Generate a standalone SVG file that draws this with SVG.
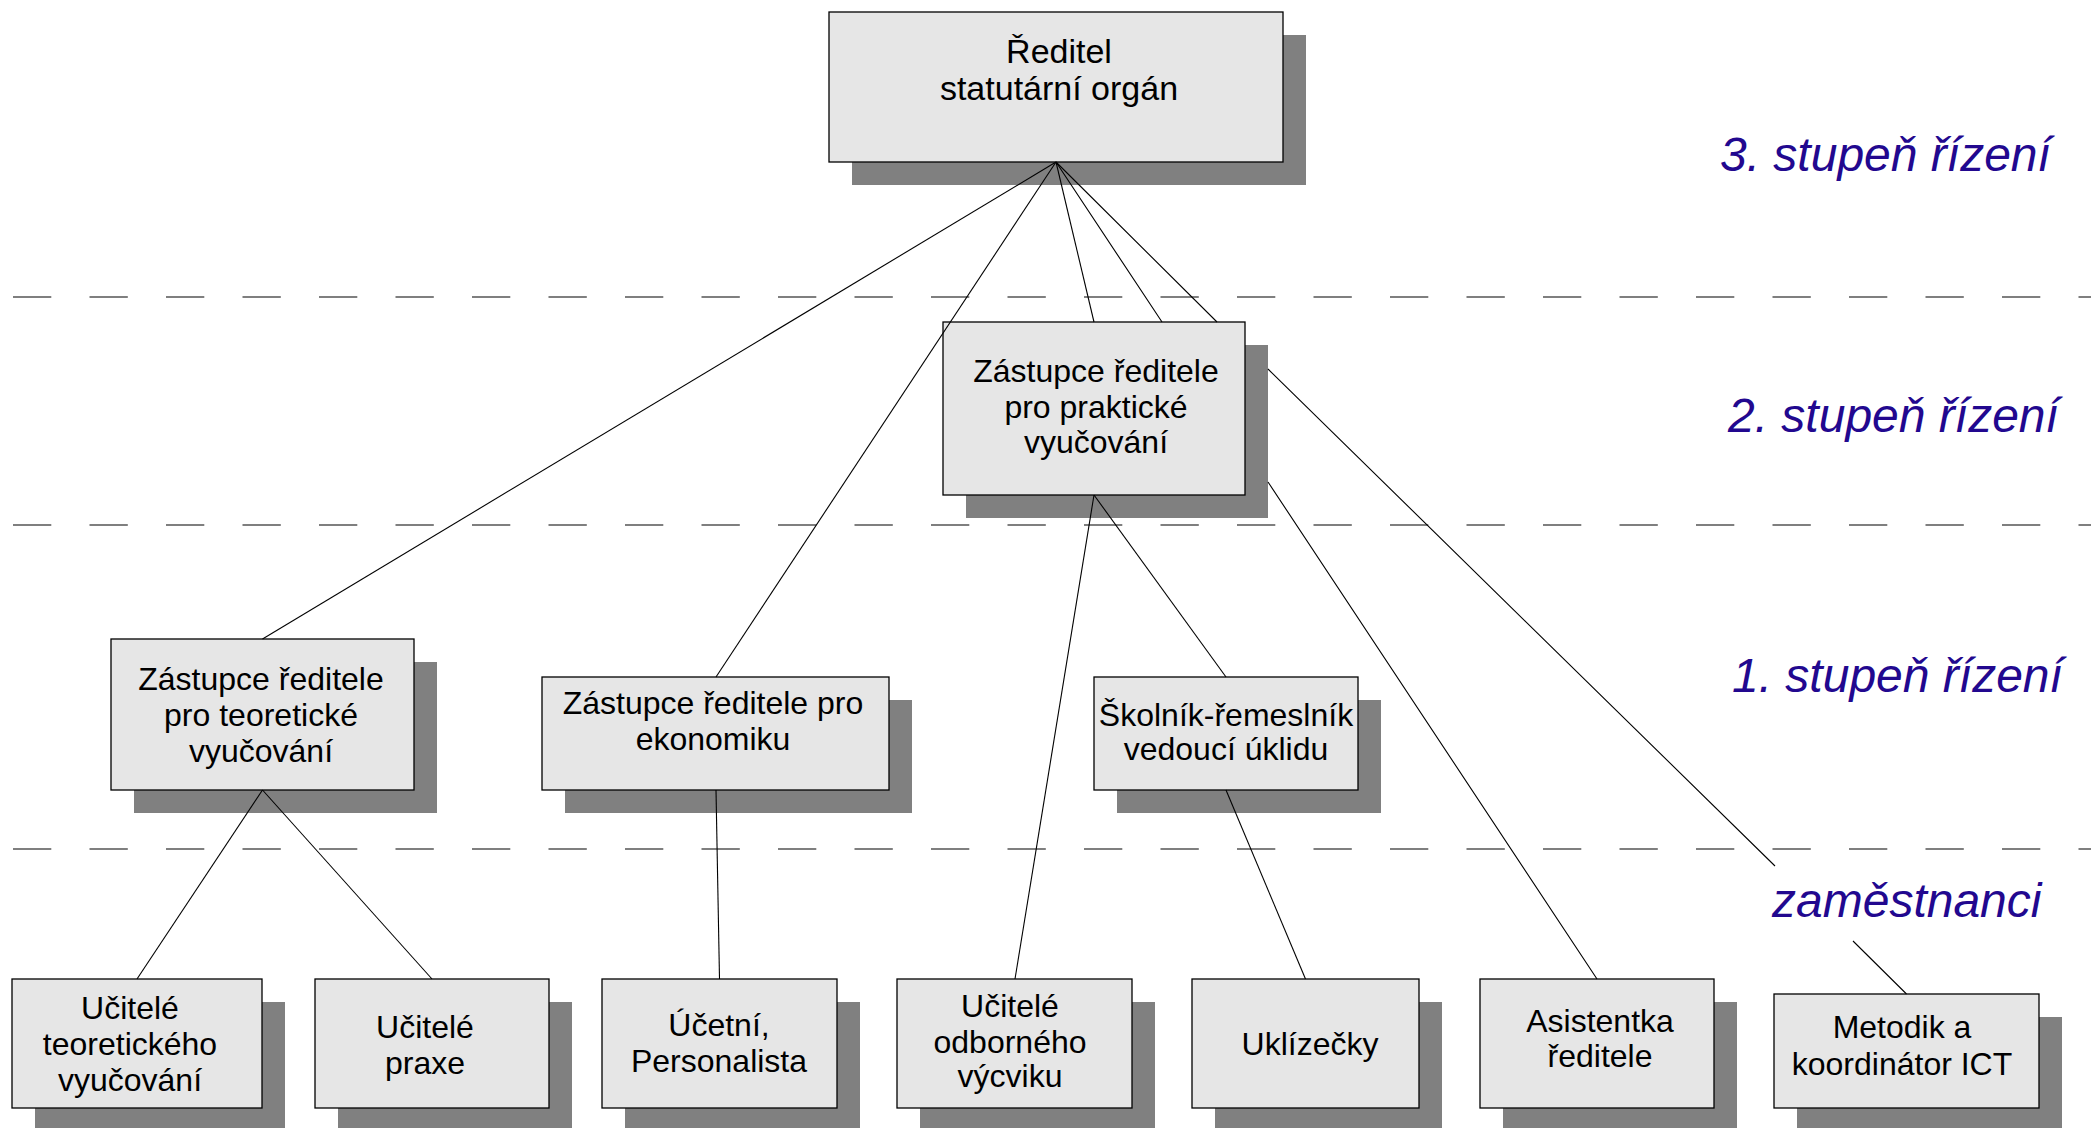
<svg xmlns="http://www.w3.org/2000/svg" width="2091" height="1128" viewBox="0 0 2091 1128">
<style>
.bg{fill:#ffffff}
.dash{stroke:#7f7f7f;stroke-width:2;stroke-dasharray:38.3 38.2;fill:none}
.con{stroke:#000;stroke-width:1.1;fill:none}
.sh{fill:#808080}
.box{fill:#e6e6e6;stroke:#000;stroke-width:1.3}
.t{font-family:"Liberation Sans",Arial,sans-serif;font-size:32px;fill:#000;text-anchor:middle}
.tb{font-size:34px}
.lvl{font-family:"Liberation Sans",Arial,sans-serif;font-size:48px;font-style:italic;fill:#22088f}
</style>
<rect class="bg" x="0" y="0" width="2091" height="1128"/>
<g id="levels">
<line class="dash" x1="13" y1="297" x2="2091" y2="297"/>
<line class="dash" x1="13" y1="525" x2="2091" y2="525"/>
<line class="dash" x1="13" y1="849" x2="2091" y2="849"/>
</g>
<g id="level-labels">
<text class="lvl" x="1720" y="171">3. stupeň řízení</text>
<text class="lvl" x="1728" y="432">2. stupeň řízení</text>
<text class="lvl" x="1732" y="692">1. stupeň řízení</text>
<text class="lvl" x="1772" y="917">zaměstnanci</text>
</g>
<g id="reditel">
<rect class="sh" x="852" y="35" width="454" height="150"/>
<rect class="box" x="829" y="12" width="454" height="150"/>
<text class="t tb" x="1059" y="63">Ředitel</text>
<text class="t tb" x="1059" y="100">statutární orgán</text>
</g>
<g id="zastupce-prakticke">
<rect class="sh" x="966" y="345" width="302" height="173"/>
<rect class="box" x="943" y="322" width="302" height="173"/>
<text class="t" x="1096" y="382">Zástupce ředitele</text>
<text class="t" x="1096" y="418">pro praktické</text>
<text class="t" x="1096" y="453">vyučování</text>
</g>
<g id="zastupce-teoreticke">
<rect class="sh" x="134" y="662" width="303" height="151"/>
<rect class="box" x="111" y="639" width="303" height="151"/>
<text class="t" x="261" y="690">Zástupce ředitele</text>
<text class="t" x="261" y="726">pro teoretické</text>
<text class="t" x="261" y="762">vyučování</text>
</g>
<g id="zastupce-ekonomika">
<rect class="sh" x="565" y="700" width="347" height="113"/>
<rect class="box" x="542" y="677" width="347" height="113"/>
<text class="t" x="713" y="714">Zástupce ředitele pro</text>
<text class="t" x="713" y="750">ekonomiku</text>
</g>
<g id="skolnik">
<rect class="sh" x="1117" y="700" width="264" height="113"/>
<rect class="box" x="1094" y="677" width="264" height="113"/>
<text class="t" x="1226" y="726">Školník-řemeslník</text>
<text class="t" x="1226" y="760">vedoucí úklidu</text>
</g>
<g id="ucitele-teoretickeho">
<rect class="sh" x="35" y="1002" width="250" height="129"/>
<rect class="box" x="12" y="979" width="250" height="129"/>
<text class="t" x="130" y="1019">Učitelé</text>
<text class="t" x="130" y="1055">teoretického</text>
<text class="t" x="130" y="1091">vyučování</text>
</g>
<g id="ucitele-praxe">
<rect class="sh" x="338" y="1002" width="234" height="129"/>
<rect class="box" x="315" y="979" width="234" height="129"/>
<text class="t" x="425" y="1038">Učitelé</text>
<text class="t" x="425" y="1074">praxe</text>
</g>
<g id="ucetni">
<rect class="sh" x="625" y="1002" width="235" height="129"/>
<rect class="box" x="602" y="979" width="235" height="129"/>
<text class="t" x="719" y="1036">Účetní,</text>
<text class="t" x="719" y="1072">Personalista</text>
</g>
<g id="ucitele-odborneho">
<rect class="sh" x="920" y="1002" width="235" height="129"/>
<rect class="box" x="897" y="979" width="235" height="129"/>
<text class="t" x="1010" y="1017">Učitelé</text>
<text class="t" x="1010" y="1053">odborného</text>
<text class="t" x="1010" y="1087">výcviku</text>
</g>
<g id="uklizecky">
<rect class="sh" x="1215" y="1002" width="227" height="129"/>
<rect class="box" x="1192" y="979" width="227" height="129"/>
<text class="t" x="1310" y="1055">Uklízečky</text>
</g>
<g id="asistentka">
<rect class="sh" x="1503" y="1002" width="234" height="129"/>
<rect class="box" x="1480" y="979" width="234" height="129"/>
<text class="t" x="1600" y="1032">Asistentka</text>
<text class="t" x="1600" y="1067">ředitele</text>
</g>
<g id="metodik">
<rect class="sh" x="1797" y="1017" width="265" height="114"/>
<rect class="box" x="1774" y="994" width="265" height="114"/>
<text class="t" x="1902" y="1038">Metodik a</text>
<text class="t" x="1902" y="1075">koordinátor ICT</text>
</g>
<g id="connectors">
<line class="con" x1="1056" y1="162" x2="262.5" y2="639"/>
<line class="con" x1="1056" y1="162" x2="716" y2="677"/>
<line class="con" x1="1056" y1="162" x2="1094" y2="322"/>
<path class="con" d="M1056,162 L1162,322 M1268,482 L1597,979"/>
<path class="con" d="M1056,162 L1217,322 M1268,369 L1775,866 M1853,941 L1906.5,994"/>
<line class="con" x1="262.5" y1="790" x2="137" y2="979"/>
<line class="con" x1="262.5" y1="790" x2="432" y2="979"/>
<line class="con" x1="716" y1="790" x2="719.5" y2="979"/>
<line class="con" x1="1094" y1="495" x2="1015" y2="979"/>
<line class="con" x1="1094" y1="495" x2="1226" y2="677"/>
<line class="con" x1="1226" y1="790" x2="1305.5" y2="979"/>
</g>
</svg>
